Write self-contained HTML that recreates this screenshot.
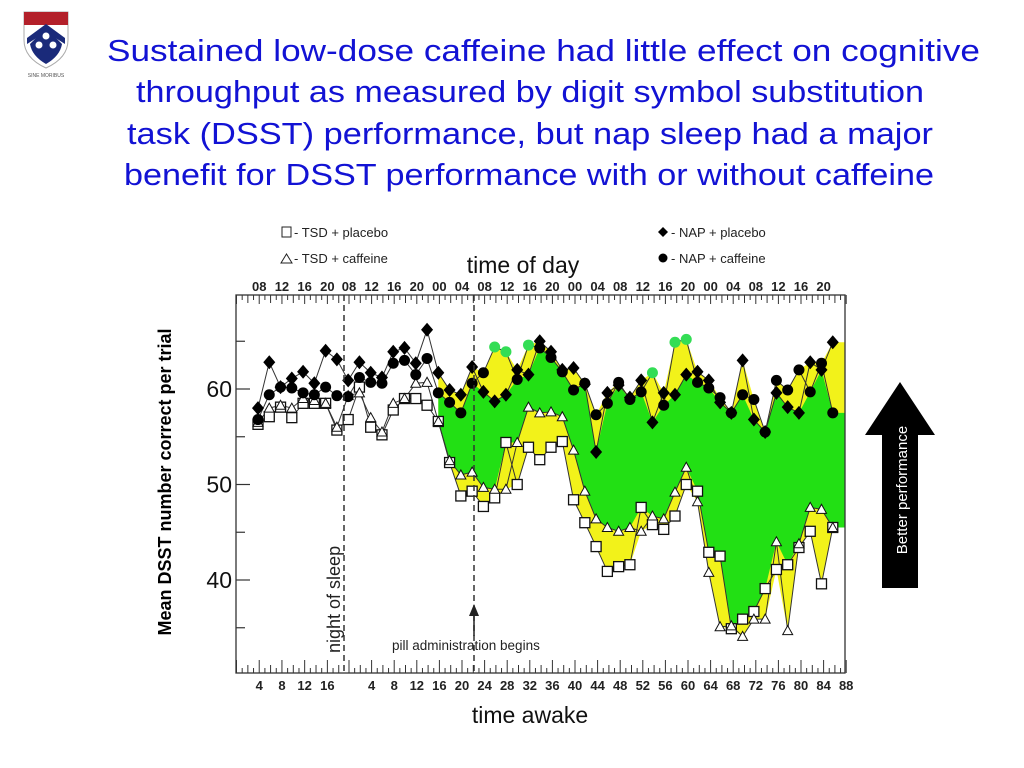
<!DOCTYPE html>
<html><head><meta charset="utf-8"><style>
html,body{margin:0;padding:0;background:#fff;}
svg{display:block;font-family:"Liberation Sans",Arial,sans-serif;}
</style></head><body>
<svg id="chart" width="1024" height="768" viewBox="0 0 1024 768">
<g>
 <path d="M24 12 H68 V40 Q68 58 46 68 Q24 58 24 40 Z" fill="#fff" stroke="#aaa" stroke-width="1"/>
 <rect x="24" y="12" width="44" height="13" fill="#b3202a"/>
 <path d="M26 32 L46 54 L66 32 L66 40 Q66 56 46 66 Q26 56 26 40 Z" fill="#fff"/>
 <path d="M27 38 L46 24 L65 38 L65 44 L46 32 L27 44 Z" fill="#1a2a7a"/>
 <path d="M30 44 L46 28 L62 44 Q60 56 46 64 Q32 56 30 44 Z" fill="#1a2a7a"/>
 <circle cx="46" cy="36" r="3.5" fill="#fff"/><circle cx="39" cy="45" r="3.5" fill="#fff"/><circle cx="53" cy="45" r="3.5" fill="#fff"/>
 <text x="46" y="77" font-size="5" text-anchor="middle" fill="#555">SINE MORIBUS</text>
</g>
<g fill="#1212d4" font-size="31">
 <text x="107" y="61" textLength="873" lengthAdjust="spacingAndGlyphs">Sustained low-dose caffeine had little effect on cognitive</text>
 <text x="136" y="102" textLength="788" lengthAdjust="spacingAndGlyphs">throughput as measured by digit symbol substitution</text>
 <text x="127" y="144" textLength="806" lengthAdjust="spacingAndGlyphs">task (DSST) performance, but nap sleep had a major</text>
 <text x="124" y="185" textLength="810" lengthAdjust="spacingAndGlyphs">benefit for DSST performance with or without caffeine</text>
</g>
<g font-size="13" fill="#222">
 <g><rect x="282" y="227" width="9" height="10" fill="#fff" stroke="#222"/><text x="294" y="237">- TSD + placebo</text></g>
 <g><path d="M281 263 L286.5 254 L292 263 Z" fill="#fff" stroke="#222"/><text x="294" y="263">- TSD + caffeine</text></g>
 <g><path d="M663 227 L668 232 L663 237 L658 232 Z" fill="#000"/><text x="671" y="237">- NAP + placebo</text></g>
 <g><circle cx="663" cy="258" r="4.5" fill="#000"/><text x="671" y="263">- NAP + caffeine</text></g>
</g>
<text x="523" y="273" font-size="23" text-anchor="middle" fill="#111">time of day</text>
<text x="530" y="723" font-size="23" text-anchor="middle" fill="#111">time awake</text>
<text transform="translate(171,482) rotate(-90)" font-size="18" font-weight="bold" text-anchor="middle" fill="#000">Mean DSST number correct per trial</text>
<g>
 <path d="M900 382 L935 435 L918 435 L918 588 L882 588 L882 435 L865 435 Z" fill="#000"/>
 <text transform="translate(907,490) rotate(-90)" font-size="15" fill="#fff" text-anchor="middle">Better performance</text>
</g>
<g id="fills"></g>
<g id="lines"></g>
<g id="marks"></g>
<g id="axes"></g>
</svg>
<script>
const napPlacebo=[58,62.8,60.2,61.1,61.8,60.6,64,63.1,60.9,62.8,61.7,61.2,63.9,64.3,62.7,66.2,61.7,59.9,59.4,62.3,59.7,58.7,59.4,62,61.5,65,63.9,62,62.2,60.5,53.4,59.6,60.4,59.1,60.9,56.5,59.6,59.4,61.5,61.8,60.9,58.6,57.5,63,56.8,55.5,59.6,58.1,57.5,62.8,62,64.9];
const napCaffeine=[56.8,59.4,60.2,60.1,59.6,59.4,60.2,59.3,59.2,61.2,60.7,60.6,62.7,63,61.5,63.2,59.6,58.6,57.5,60.6,61.7,64.4,63.9,61,64.6,64.3,63.3,61.8,59.9,60.6,57.3,58.5,60.7,58.9,59.7,61.7,58.3,64.9,65.2,60.7,60.1,59.1,57.5,59.4,58.9,55.5,60.9,59.9,62,59.7,62.7,57.5];
const tsdPlacebo=[56.3,57.1,58.1,57,58.5,58.5,58.5,55.7,56.8,60.2,56,55.2,57.8,59,59,58.3,56.6,52.3,48.8,49.3,47.7,48.6,54.4,50,53.9,52.6,53.9,54.5,48.4,46,43.5,40.9,41.4,41.6,47.6,45.8,45.3,46.7,50,49.3,42.9,42.5,34.9,35.9,36.7,39.1,41.1,41.6,43.4,45.1,39.6,45.5];
const tsdCaffeine=[56.5,58,58.3,58,59,58.8,58.5,56,59.3,59.6,57,55.5,58.5,59,60.6,60.7,56.6,52.5,51,51.3,49.7,49.5,49.5,54.4,58.1,57.5,57.6,57.1,53.6,49.3,46.4,45.5,45.1,45.5,45.1,46.7,46.4,49.2,51.8,48.2,40.8,35.1,35.2,34.1,35.9,35.9,44,34.7,43.8,47.6,47.4,45.5];
const greenCircles=[21,22,24,35,37,38];
const yTicks=[35,40,45,50,55,60,65];
const yLabels=[40,50,60];
const topLabels=["08","12","16","20","08","12","16","20","00","04","08","12","16","20","00","04","08","12","16","20","00","04","08","12","16","20"];
const bottomDay1=[4,8,12,16];
const bottomDay2=[4,8,12,16,20,24,28,32,36,40,44,48,52,56,60,64,68,72,76,80,84,88];

const NS="http://www.w3.org/2000/svg";
const L=236,R=845,T=295,B=673;
const X=i=>258+i*11.27;
const Y=v=>389-(v-60)*9.55;
const H1=t=>236.5+t*5.68;
const H2=t=>349+t*5.65;
function el(tag,attrs,parent){const e=document.createElementNS(NS,tag);for(const k in attrs)e.setAttribute(k,attrs[k]);parent.appendChild(e);return e;}
const fills=document.getElementById('fills'),lines=document.getElementById('lines'),marks=document.getElementById('marks'),axes=document.getElementById('axes');

const start=16,n=napPlacebo.length;
function band(topF,botF,color,name){
  let top=[],bot=[];
  for(let i=start;i<n;i++){top.push([X(i),Y(topF(i))]);bot.push([X(i),Y(botF(i))]);}
  top.push([R,Y(topF(n-1))]);bot.push([R,Y(botF(n-1))]);
  const pts=top.concat(bot.reverse()).map(p=>p.join(',')).join(' ');
  const p=el('polygon',{points:pts,fill:color},fills);
  
  
}
band(i=>Math.max(napPlacebo[i],napCaffeine[i]),i=>Math.min(tsdPlacebo[i],tsdCaffeine[i]),'#f2f21a','yellow-benefit-area');
band(i=>Math.min(napPlacebo[i],napCaffeine[i]),i=>Math.max(tsdPlacebo[i],tsdCaffeine[i]),'#22e014','green-benefit-area');

function series(arr,name){
  const pts=arr.map((v,i)=>X(i)+','+Y(v)).join(' ');
  const p=el('polyline',{points:pts,fill:'none',stroke:'#333','stroke-width':1},lines);
  
  
}
series(tsdPlacebo,'tsd-placebo');series(tsdCaffeine,'tsd-caffeine');series(napPlacebo,'nap-placebo');series(napCaffeine,'nap-caffeine');

tsdPlacebo.forEach((v,i)=>{const m=el('rect',{x:X(i)-5,y:Y(v)-5,width:10,height:10,fill:'#fff',stroke:'#111','stroke-width':1.3},marks);
  
  });
tsdCaffeine.forEach((v,i)=>{const x=X(i),y=Y(v);const m=el('path',{d:`M${x-5} ${y+4} L${x} ${y-5} L${x+5} ${y+4} Z`,fill:'#fff',stroke:'#111','stroke-width':1},marks);
  
  });
napPlacebo.forEach((v,i)=>{const x=X(i),y=Y(v);const m=el('path',{d:`M${x} ${y-7} L${x+6} ${y} L${x} ${y+7} L${x-6} ${y} Z`,fill:'#000'},marks);
  
  });
napCaffeine.forEach((v,i)=>{const m=el('circle',{cx:X(i),cy:Y(v),r:5.5,fill:greenCircles.includes(i)?'#33dd55':'#000'},marks);
  
  });

const fr=el('rect',{x:L,y:T,width:R-L,height:B-T,fill:'none',stroke:'#333','stroke-width':1.3},axes);


[[344,'night-of-sleep-line'],[474,'pill-start-line']].forEach(([x,nm])=>{const d=el('line',{x1:x,y1:T,x2:x,y2:B,stroke:'#333','stroke-width':1.5,'stroke-dasharray':'6,4'},axes);
  
  });
yTicks.forEach(v=>{const major=yLabels.includes(v);el('line',{x1:L,y1:Y(v),x2:L+(major?14:9),y2:Y(v),stroke:'#333','stroke-width':1.2},axes);});
yLabels.forEach(v=>{const t=el('text',{x:L-4,y:Y(v)+8,'font-size':23,'text-anchor':'end',fill:'#111'},axes);t.textContent=v;
  
  });
function tickLen(h){return h%4===0?13:(h%2===0?8:5);}
for(let h=0;h<=19;h++){const x=H1(h);if(x>342)break;const l=tickLen(h);
  el('line',{x1:x,y1:B,x2:x,y2:B-l,stroke:'#333'},axes);el('line',{x1:x,y1:T,x2:x,y2:T+Math.min(l,9),stroke:'#333'},axes);}
for(let h=0;h<=88;h++){const x=H2(h);const l=tickLen(h);
  el('line',{x1:x,y1:B,x2:x,y2:B-l,stroke:'#333'},axes);el('line',{x1:x,y1:T,x2:x,y2:T+Math.min(l,9),stroke:'#333'},axes);}
bottomDay1.forEach(h=>{const t=el('text',{x:H1(h),y:690,'font-size':13,'font-weight':'bold','text-anchor':'middle',fill:'#222'},axes);t.textContent=h;
  
  });
bottomDay2.forEach(h=>{const t=el('text',{x:H2(h),y:690,'font-size':13,'font-weight':'bold','text-anchor':'middle',fill:'#222'},axes);t.textContent=h;
  
  });
topLabels.forEach((s,i)=>{const x=i<4?H1(4+i*4):H2((i-4)*4);const t=el('text',{x:x,y:291,'font-size':13,'font-weight':'bold','text-anchor':'middle',fill:'#222'},axes);t.textContent=s;
  
  });
const ns=el('text',{transform:'translate(340,653) rotate(-90)','font-size':18,fill:'#222'},axes);ns.textContent='night of sleep';


const pa=el('text',{x:392,y:650,'font-size':13.5,fill:'#222'},axes);pa.textContent='pill administration begins';


const ar=el('line',{x1:474,y1:636,x2:474,y2:610,stroke:'#222','stroke-width':1.5},axes);


const ah=el('path',{d:'M469 616 L474 604 L479 616 Z',fill:'#222'},axes);


</script>
</body></html>
